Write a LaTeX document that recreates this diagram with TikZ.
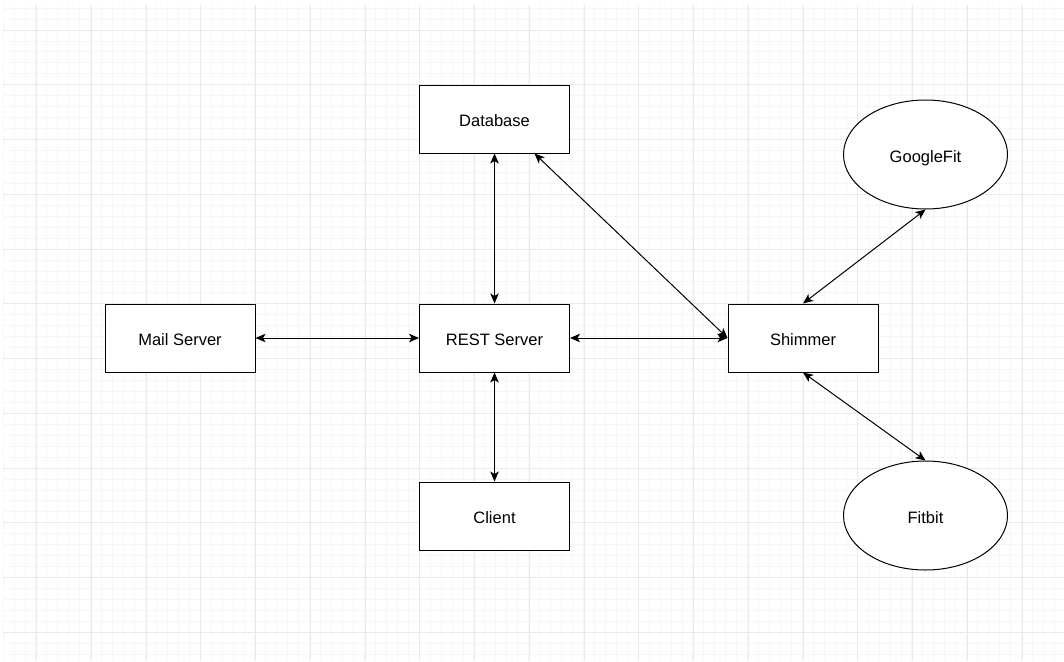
\documentclass[tikz,border=0pt]{standalone}
\usepackage{fontspec}
\setmainfont{Liberation Sans}
\usetikzlibrary{arrows.meta,shapes.geometric}
\definecolor{minorgrid}{HTML}{F6F6F6}
\definecolor{majorgrid}{HTML}{EAEAEA}
\begin{document}
\begin{tikzpicture}[x=1pt,y=-1pt,
  box/.style={draw=black,line width=1pt,fill=white,minimum width=150pt,minimum height=68pt,inner sep=0pt,text height=15.5pt,text depth=0pt,font=\fontsize{16.5}{19}\selectfont},
  oval/.style={ellipse,draw=black,line width=1pt,fill=white,minimum width=164pt,minimum height=109pt,inner sep=0pt,text height=15.5pt,text depth=0pt,font=\fontsize{16.5}{19}\selectfont},
  link/.style={line width=1pt,{Stealth[length=10pt,width=8.5pt,inset=2.5pt]}-{Stealth[length=10pt,width=8.5pt,inset=2.5pt]}}]
\useasboundingbox (0,0) rectangle (1064,661);
\fill[white] (0,0) rectangle (1064,661);
% minor grid
\foreach \i in {0,...,97} {
  \pgfmathsetmacro\xx{3+\i*10.95}
  \draw[minorgrid,line width=0.8pt] (\xx,5) -- (\xx,661);
}
\foreach \j in {0,...,60} {
  \pgfmathsetmacro\yy{8.1+\j*10.95}
  \draw[minorgrid,line width=0.8pt] (3,\yy) -- (1064,\yy);
}
% major grid
\foreach \i in {0,...,19} {
  \pgfmathsetmacro\xx{36.5+\i*54.75}
  \draw[majorgrid,line width=0.9pt] (\xx,5) -- (\xx,661);
}
\foreach \j in {0,...,11} {
  \pgfmathsetmacro\yy{30+\j*54.75}
  \draw[majorgrid,line width=0.9pt] (3,\yy) -- (1064,\yy);
}
% nodes
\node[box] (db) at (494.5,119) {Database};
\node[box] (rest) at (494.5,338) {REST Server};
\node[box] (mail) at (180,338) {Mail Server};
\node[box] (client) at (494.5,516) {Client};
\node[box] (shim) at (803,338) {Shimmer};
\node[oval] (gfit) at (925.5,154.5) {GoogleFit};
\node[oval] (fitbit) at (925.5,515.5) {Fitbit};
% connectors
\draw[link] (db.south) -- (rest.north);
\draw[link] (rest.south) -- (client.north);
\draw[link] (mail.east) -- (rest.west);
\draw[link] (rest.east) -- (shim.west);
\draw[link] ([xshift=40pt]db.south) -- (shim.west);
\draw[link] (shim.north) -- (gfit.south);
\draw[link] (shim.south) -- (fitbit.north);
\end{tikzpicture}
\end{document}
